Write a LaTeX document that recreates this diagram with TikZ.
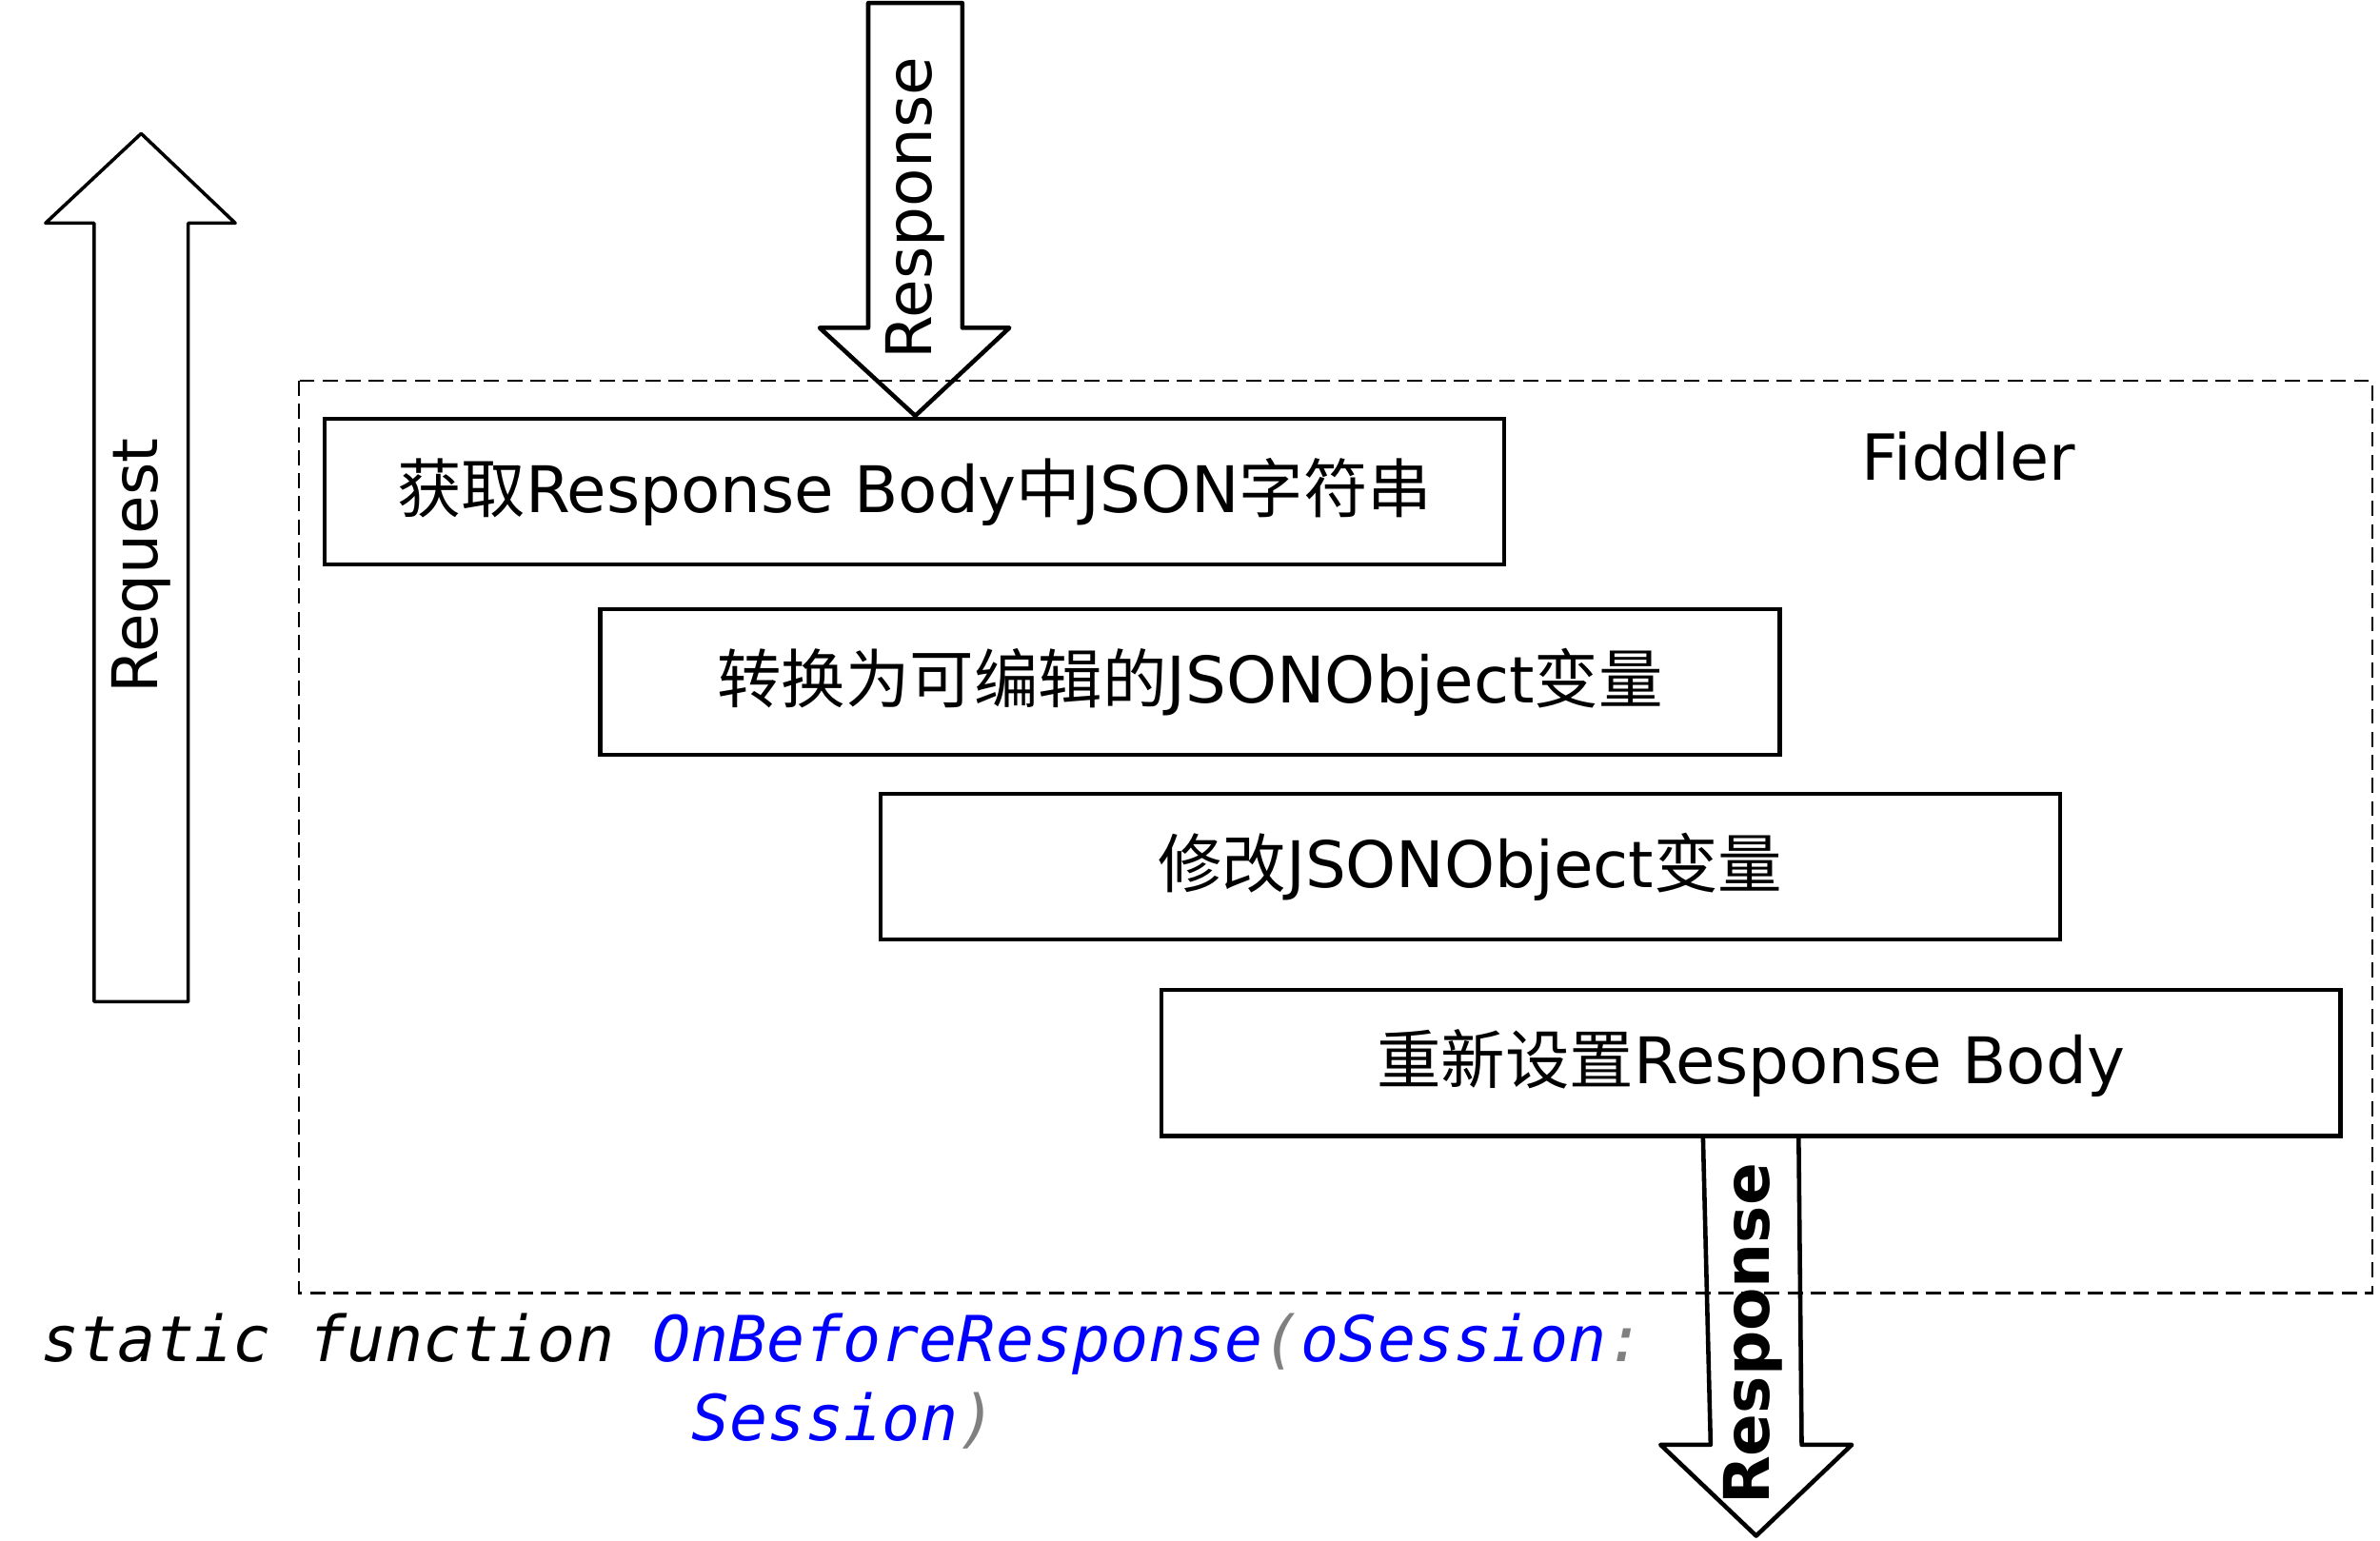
\documentclass[tikz,border=0pt]{standalone}
\usepackage{fontspec}
\setmainfont{DejaVu Sans}
\newfontfamily\cjk{Noto Sans CJK SC}
\newfontfamily\codefont{DejaVu Sans Mono}
\begin{document}
\begin{tikzpicture}[x=0.015944cm,y=-0.015944cm,
  stepbox/.style={draw,line width=1.2pt,minimum width=12.39cm,minimum height=1.531cm,inner sep=0pt,outer sep=0pt,font=\fontsize{19.2}{23}\selectfont},
  blockarrow/.style={draw,line width=1.3pt,line join=round},
  arrowlabel/.style={rotate=90,inner sep=0pt,font=\fontsize{18.8}{22}\selectfont},
  codetext/.style={anchor=base west,inner sep=0pt,font=\codefont\itshape\fontsize{18.95}{22}\selectfont}]
\definecolor{codeblue}{RGB}{0,0,255}
\definecolor{codegray}{RGB}{128,128,128}
\useasboundingbox (0,0) rectangle (1568,1015.4);

% request arrow
\draw[blockarrow,line width=1pt] (62,660) -- (62,147) -- (30,147) -- (93,88) -- (155,147) -- (124,147) -- (124,660) -- cycle;
\node[arrowlabel] (req) at (93,373) {Request};

% top response arrow
\draw[blockarrow] (572,2) -- (572,216) -- (540,216) -- (603,274) -- (665,216) -- (634,216) -- (634,2) -- cycle;
\node[arrowlabel] (resp1) at (603,137) {Response};

% bottom response arrow
\draw[blockarrow] (1122,750) -- (1127,952) -- (1094,952) -- (1157,1012) -- (1220,952) -- (1187,952) -- (1185,750);
\node[arrowlabel,font=\bfseries\fontsize{18.8}{22}\selectfont] (resp2) at (1155,879) {Response};

% fiddler box
\draw[dashed,line width=0.6pt,dash pattern=on 4.5pt off 2.4pt] (197,251) rectangle (1563,852);
\node[inner sep=0pt,font=\fontsize{19}{23}\selectfont] (fiddler) at (1297,301) {Fiddler};

% steps
\node[stepbox] (s1) at (602.5,324) {{\cjk 获取}Response Body{\cjk 中}JSON{\cjk 字符串}};
\node[stepbox] (s2) at (784,449.5) {{\cjk 转换为可编辑的}JSONObject{\cjk 变量}};
\node[stepbox] (s3) at (968.5,571) {{\cjk 修改}JSONObject{\cjk 变量}};
\node[stepbox] (s4) at (1153.5,700.5) {{\cjk 重新设置}Response Body};

% code
\node[codetext] (code1) at (27,897) {static function \textcolor{codeblue}{OnBeforeResponse}\textcolor{codegray}{(}\textcolor{codeblue}{oSession}\textcolor{codegray}{:}};
\node[codetext] (code2) at (455,949) {\textcolor{codeblue}{Session}\textcolor{codegray}{)}};
\end{tikzpicture}
\end{document}
